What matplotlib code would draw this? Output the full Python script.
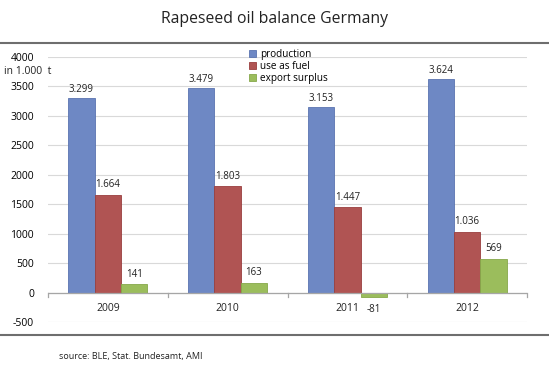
import matplotlib
matplotlib.use("Agg")
import matplotlib.pyplot as plt
import numpy as np

years = ["2009", "2010", "2011", "2012"]
production = [3299, 3479, 3153, 3624]
use_as_fuel = [1664, 1803, 1447, 1036]
export_surplus = [141, 163, -81, 569]
series_names = ["production", "use as fuel", "export surplus"]
colors = ["#6E88C4", "#B05453", "#9BBD5C"]
edge = ["#5A74B0", "#9A3E3E", "#86A84A"]
yticks = [-500, 0, 500, 1000, 1500, 2000, 2500, 3000, 3500, 4000]

plt.rcParams['font.family'] = ['Open Sans', 'DejaVu Sans']
W, H = 549, 374
fig = plt.figure(figsize=(5.49, 3.74), dpi=100)
ax = fig.add_axes([48/W, 1-322/H, 479/W, 265/H])

x = np.arange(len(years))
w = 0.22
data = [production, use_as_fuel, export_surplus]
for i, (vals, c, ec, nm) in enumerate(zip(data, colors, edge, series_names)):
    pos = x + (i - 1) * w
    ax.bar(pos, vals, width=w, color=c, edgecolor=ec, linewidth=0.6, label=nm, zorder=3)
    for p, v in zip(pos, vals):
        lab = f"{v/1000:.3f}" if abs(v) >= 1000 else str(v)
        if v >= 0:
            off = 50 if i == 0 else 80
            ax.text(p, v + off, lab, ha='center', va='bottom', fontsize=7, color='#222222')
        else:
            ax.text(p, -200, lab, ha='center', va='top', fontsize=7, color='#222222')

ax.set_xlim(-0.5, 3.5)
ax.set_ylim(-500, 4000)
ax.set_yticks(yticks)
ax.set_yticklabels([str(t) for t in yticks], fontsize=7.5)
ax.tick_params(axis='y', length=0, pad=10)
ax.yaxis.grid(True, color='#D9D9D9', linewidth=0.8, zorder=0)
ax.set_xticks([])
for s in ['top', 'right', 'left', 'bottom']:
    ax.spines[s].set_visible(False)
ax.axhline(0, color='#A6A6A6', linewidth=0.9, zorder=4)
for b in [-0.5, 0.5, 1.5, 2.5, 3.5]:
    ax.plot([b, b], [0, -70], color='#A6A6A6', linewidth=0.9, clip_on=False, zorder=4)
for xi, yl in zip(x, years):
    ax.text(xi, -180, yl, ha='center', va='top', fontsize=7.5, color='#222222')

ax.legend(loc='upper left', bbox_to_anchor=(197/479, 1.045), frameon=False, fontsize=7.2,
          handlelength=0.7, handleheight=0.7, handletextpad=0.4, labelspacing=0.1,
          borderaxespad=0)

fig.text(4/W, 1-72/H, "in 1.000  t", fontsize=7.5, va='center', ha='left', color='#222222')
fig.text(0.5, 1-19/H, "Rapeseed oil balance Germany", fontsize=11.3, ha='center', va='center', color='#222222')
fig.add_artist(plt.Line2D([0, 1], [1-43/H, 1-43/H], color='#6E6E6E', linewidth=1.5, transform=fig.transFigure))
fig.add_artist(plt.Line2D([0, 1], [1-335/H, 1-335/H], color='#6E6E6E', linewidth=1.5, transform=fig.transFigure))
fig.text(59/W, 1-356/H, "source: BLE, Stat. Bundesamt, AMI", fontsize=6.5, va='center', ha='left', color='#222222')

fig.savefig("out.png", dpi=100)
